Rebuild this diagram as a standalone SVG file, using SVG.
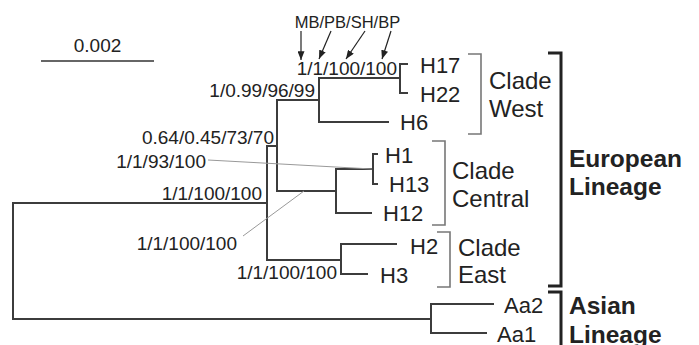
<svg xmlns="http://www.w3.org/2000/svg" width="699" height="345" viewBox="0 0 699 345">
<defs>
<marker id="ah" viewBox="0 0 10 8" refX="10" refY="4" markerWidth="9" markerHeight="7" markerUnits="userSpaceOnUse" orient="auto"><path d="M0,0 L10,4 L0,8 z" fill="#222"/></marker>
</defs>
<style>
text{font-family:"Liberation Sans",Arial,sans-serif;fill:#222}
.s{font-size:19px}
.m{font-size:16.5px}
.n{font-size:22px}
.c{font-size:24px}
.b{font-size:24.5px;font-weight:bold}
.tree{fill:none;stroke:#3c3c3c;stroke-width:2}
.br{fill:none;stroke:#777;stroke-width:1.6}
.lin{fill:none;stroke:#222;stroke-width:3}
.lead{stroke:#999;stroke-width:1;fill:none}
.arr{stroke:#222;stroke-width:1.2;fill:none;marker-end:url(#ah)}
</style>
<rect width="699" height="345" fill="#fff"/>
<g id="scale">
<line x1="41" y1="61" x2="154" y2="61" stroke="#333" stroke-width="1.5"/>
<text class="s" x="97.5" y="52" text-anchor="middle">0.002</text>
</g>
<g id="connectors">
<path class="tree" d="M267,203 H13 V319 H431"/>
<path class="tree" d="M267,146 V260 M266,146 H277"/>
<path class="tree" d="M277,100 V191 M276,100 H319"/>
<path class="tree" d="M319,78 V122 M318,78 H400 M400,64 V93 M399,64 H408 M399,93 H408"/>
<path class="tree" d="M318,122 H389"/>
<path class="tree" d="M276,191 H336 M336,169 V213 M335,169 H373 M373,154 V184 M372,154 H378 M372,184 H378"/>
<path class="tree" d="M335,213 H372"/>
<path class="tree" d="M266,260 H341 M341,244 V274 M340,244 H397 M340,274 H368"/>
<path class="tree" d="M431,304 V333 M430,304 H494 M430,333 H487"/>
<path class="lead" d="M208,160 L372,169"/>
<path class="lead" d="M243,236 L304,191"/>
<line class="arr" x1="301" y1="31" x2="301" y2="60"/>
<line class="arr" x1="331" y1="31" x2="319" y2="59"/>
<line class="arr" x1="365" y1="31" x2="346" y2="59"/>
<line class="arr" x1="391" y1="31" x2="382" y2="59"/>
</g>
<g id="support-labels">
<text class="m" x="347.5" y="28" text-anchor="middle">MB/PB/SH/BP</text>
<text class="s" x="397" y="75" text-anchor="end">1/1/100/100</text>
<text class="s" x="315" y="97" text-anchor="end">1/0.99/96/99</text>
<text class="s" x="274" y="144" text-anchor="end">0.64/0.45/73/70</text>
<text class="s" x="206" y="168" text-anchor="end">1/1/93/100</text>
<text class="s" x="262" y="200" text-anchor="end">1/1/100/100</text>
<text class="s" x="237" y="250" text-anchor="end">1/1/100/100</text>
<text class="s" x="337" y="279" text-anchor="end">1/1/100/100</text>
</g>
<g id="H17"><text class="n" x="420" y="73">H17</text></g>
<g id="H22"><text class="n" x="420" y="102">H22</text></g>
<g id="H6"><text class="n" x="400" y="130">H6</text></g>
<g id="H1"><text class="n" x="385" y="163">H1</text></g>
<g id="H13"><text class="n" x="389" y="192">H13</text></g>
<g id="H12"><text class="n" x="383" y="221">H12</text></g>
<g id="H2"><text class="n" x="410" y="254">H2</text></g>
<g id="H3"><text class="n" x="380" y="283">H3</text></g>
<g id="Aa2"><text class="n" x="504" y="313">Aa2</text></g>
<g id="Aa1"><text class="n" x="497" y="342">Aa1</text></g>
<g id="clade-west">
<path class="br" d="M468,54 H481 V134 H468"/>
<text class="c" x="489" y="89">Clade</text>
<text class="c" x="489" y="117">West</text>
</g>
<g id="clade-central">
<path class="br" d="M432,141 H445 V225 H432"/>
<text class="c" x="452" y="179">Clade</text>
<text class="c" x="452" y="207">Central</text>
</g>
<g id="clade-east">
<path class="br" d="M437,232 H450 V287 H437"/>
<text class="c" x="458" y="256">Clade</text>
<text class="c" x="458" y="283">East</text>
</g>
<g id="european-lineage">
<path class="lin" d="M548,53 H561 V286 H548"/>
<text class="b" x="569" y="167">European</text>
<text class="b" x="569" y="195">Lineage</text>
</g>
<g id="asian-lineage">
<path class="lin" d="M548,292 H561 V346"/>
<text class="b" x="569" y="314">Asian</text>
<text class="b" x="569" y="343">Lineage</text>
</g>
</svg>
